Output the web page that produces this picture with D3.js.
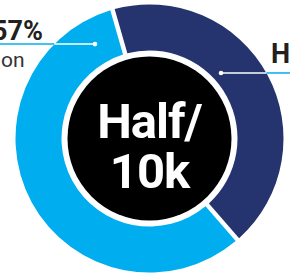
<!DOCTYPE html>
<html>
<head>
<meta charset="utf-8">
<script src="https://cdn.jsdelivr.net/npm/d3@7"></script>
<style>
  html, body { margin: 0; padding: 0; background: #fff; overflow: hidden; }
  svg { display: block; }
</style>
</head>
<body>
<div id="chart"></div>
<script>
// data
const shares = [57, 43];
const shareColors = ["#00aeef", "#25346e"];
const shareTitles = ["57%", "H"];
const shareSubtitles = ["on", ""];
const centerLines = ["Half/", "10k"];

const width = 290, height = 274;
const cx = 149.5, cy = 138.5;
const outerR = 134, innerR = 88, coreR = 82;

const svg = d3.select("#chart")
    .append("svg")
    .attr("width", width)
    .attr("height", height);

const g = svg.append("g")
    .attr("transform", `translate(${cx},${cy})`);

const deg = Math.PI / 180;
const pie = d3.pie()
    .sort(null)
    .startAngle(139 * deg)
    .endAngle(499 * deg)
    .padAngle(0.03);

const arc = d3.arc()
    .innerRadius(innerR)
    .outerRadius(outerR)
    .padRadius(150);

const arcs = pie(shares);

g.selectAll("path.slice")
    .data(arcs)
    .enter().append("path")
    .attr("class", "slice")
    .attr("d", arc)
    .attr("fill", (d, i) => shareColors[i]);

// black core with the label
g.append("circle")
    .attr("r", coreR)
    .attr("fill", "#000");

const centerText = g.append("text")
    .attr("text-anchor", "middle")
    .attr("font-family", "Roboto, sans-serif")
    .attr("font-weight", 700)
    .attr("font-size", 49)
    .attr("letter-spacing", -1)
    .attr("fill", "#fff");

centerText.selectAll("tspan")
    .data(centerLines)
    .enter().append("tspan")
    .attr("x", 0)
    .attr("y", (d, i) => -0.5 + i * 50)
    .text(d => d);

// leader lines: anchor point inside each slice (angle in deg, radius)
const leaders = [
    { angle: -30, r: 109, toX: -cx, textX: 43 - cx, titleY: 40 - cy, subY: 67 - cy, anchor: "end" },
    { angle: 47.5, r: 97, toX: width - cx, textX: 271 - cx, titleY: 63 - cy, subY: 0, anchor: "start" }
];

leaders.forEach(function(l, i) {
    const px = l.r * Math.sin(l.angle * deg);
    const py = -l.r * Math.cos(l.angle * deg);
    const edgeX = Math.sign(l.toX) * Math.sqrt(outerR * outerR - py * py);

    g.append("line")
        .attr("x1", edgeX).attr("y1", py)
        .attr("x2", l.toX).attr("y2", py)
        .attr("stroke", "#00aeef")
        .attr("stroke-width", 1.5);

    g.append("line")
        .attr("x1", px).attr("y1", py)
        .attr("x2", edgeX).attr("y2", py)
        .attr("stroke", "#fff")
        .attr("stroke-width", 1.5);

    g.append("circle")
        .attr("cx", px).attr("cy", py)
        .attr("r", 2.3)
        .attr("fill", "#fff");

    g.append("text")
        .attr("x", l.textX)
        .attr("y", l.titleY)
        .attr("text-anchor", l.anchor)
        .attr("font-family", "Roboto, sans-serif")
        .attr("font-weight", 700)
        .attr("font-size", 27)
        .attr("fill", "#231f20")
        .text(shareTitles[i]);

    if (shareSubtitles[i]) {
        g.append("text")
            .attr("x", 1 - cx)
            .attr("y", l.subY)
            .attr("font-family", "Roboto, sans-serif")
            .attr("font-size", 21)
            .attr("fill", "#333")
            .text(shareSubtitles[i]);
    }
});
</script>
</body>
</html>
